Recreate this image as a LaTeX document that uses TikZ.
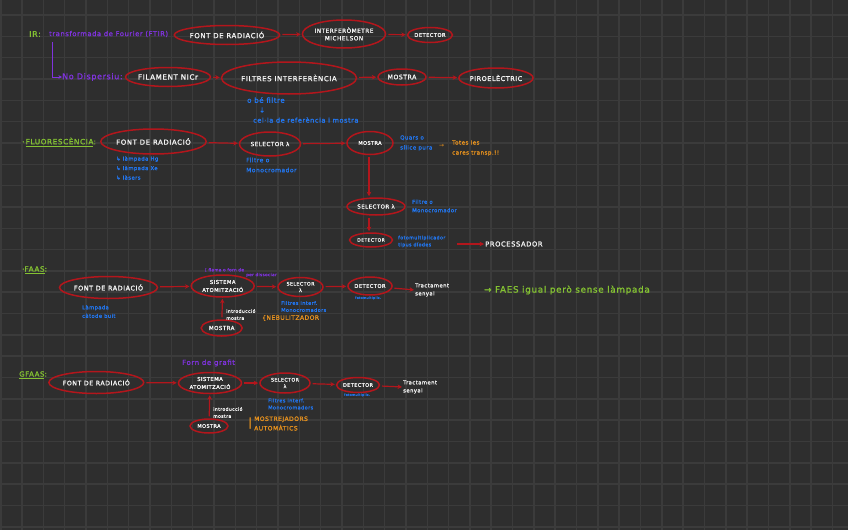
\documentclass[tikz,border=0pt]{standalone}
\usepackage{fontspec}
\setmainfont{DejaVu Sans}
\newfontfamily\hand[LetterSpace=8,FakeBold=1.2]{DejaVu Sans}
\usetikzlibrary{shapes.geometric,arrows.meta}
\definecolor{bgc}{HTML}{2E2E2E}
\definecolor{gridc}{HTML}{3B3B3B}
\definecolor{ered}{HTML}{B3161C}
\definecolor{pur}{HTML}{8033DE}
\definecolor{blu}{HTML}{2277F2}
\definecolor{grn}{HTML}{84C232}
\definecolor{org}{HTML}{E8921E}
\definecolor{wht}{HTML}{F4F4F4}
\begin{document}
\begin{tikzpicture}[x=1pt,y=-1pt,
  ell/.style={ellipse,draw=ered,line width=1.5pt,inner sep=0pt,text=wht,align=center},
  arr/.style={draw=ered,line width=1.2pt,-{Stealth[length=4.5pt,width=4.5pt]},shorten <=2pt,shorten >=1pt},
  parr/.style={draw=pur,line width=1pt,-{Stealth[length=3.5pt,width=3.5pt]}},
  txt/.style={inner sep=0pt,anchor=west,align=left},
]
\useasboundingbox (0,0) rectangle (848,530);
\fill[bgc] (0,0) rectangle (848,530);
\foreach \k in {0,...,39} \draw[gridc,line width=1.6pt] ({0.7+21.33*\k},0) -- ({0.7+21.33*\k},530);
\foreach \k in {0,...,24} \draw[gridc,line width=1.6pt] (0,{15+21.33*\k}) -- (848,{15+21.33*\k});

% ---------- IR ----------
\node[txt,text=grn,font=\hand\fontsize{8}{9}\selectfont] (ir) at (29,34) {IR:};
\node[txt,text=pur,font=\hand\fontsize{6.8}{8}\selectfont] (ftir) at (49,34) {transformada de Fourier (FTIR)};
\node[ell,minimum width=100pt,minimum height=19pt,font=\hand\fontsize{7}{8}\selectfont] (a1) at (227,35) {FONT DE RADIACIÓ};
\node[ell,minimum width=82pt,minimum height=28pt,font=\hand\fontsize{5.8}{7.5}\selectfont] (a2) at (344,34) {INTERFERÒMETRE\\MICHELSON};
\node[ell,minimum width=45pt,minimum height=15pt,font=\hand\fontsize{5.2}{6}\selectfont] (a3) at (430,35) {DETECTOR};
\draw[arr] (a1) -- (a2);
\draw[arr] (a2) -- (a3);

\coordinate (irc) at (52,42);
\node[txt,text=pur,font=\hand\fontsize{8}{9}\selectfont] (nd) at (62,77) {No Dispersiu:};
\draw[parr] (irc) |- (nd.west);
\node[ell,minimum width=75pt,minimum height=19pt,font=\hand\fontsize{7.2}{8}\selectfont] (b1) at (168,77) {FILAMENT NICr};
\node[ell,minimum width=117pt,minimum height=32pt,font=\hand\fontsize{7}{8}\selectfont] (b2) at (289,78) {FILTRES INTERFERÈNCIA};
\node[ell,minimum width=48pt,minimum height=16pt,font=\hand\fontsize{6.2}{7}\selectfont] (b3) at (402,77) {MOSTRA};
\node[ell,minimum width=69pt,minimum height=20pt,font=\hand\fontsize{6.5}{7}\selectfont] (b4) at (496,78) {PIROELÈCTRIC};
\draw[arr] (b1) -- (b2);
\draw[arr] (b2) -- (b3);
\draw[arr] (b3) -- (b4);
\node[txt,text=blu,font=\hand\fontsize{7}{8}\selectfont] (obe) at (247,100) {o bé filtre};
\node[txt,text=blu,font=\hand\fontsize{7}{8}\selectfont] (darr) at (259,110) {↓};
\node[txt,text=blu,font=\hand\fontsize{6.6}{8}\selectfont] (cel) at (253,120) {cel·la de referència i mostra};

% ---------- Fluorescencia ----------
\node[txt,text=grn,font=\hand\fontsize{7.3}{8}\selectfont] (fl) at (22,142) {·\,\underline{FLUORESCÈNCIA}:};
\node[ell,minimum width=89pt,minimum height=25pt,font=\hand\fontsize{7}{8}\selectfont] (c1) at (153.5,141.5) {FONT DE RADIACIÓ};
\node[ell,minimum width=61pt,minimum height=24pt,font=\hand\fontsize{5.7}{7}\selectfont] (c2) at (270,144) {SELECTOR λ};
\node[ell,minimum width=46pt,minimum height=23pt,font=\hand\fontsize{5}{6}\selectfont] (c3) at (370,143) {MOSTRA};
\draw[arr] (c1) -- (c2);
\draw[arr] (c2) -- (c3);
\node[txt,text=blu,font=\hand\fontsize{5.3}{9.5}\selectfont] (lamp) at (116,168) {↳ làmpada Hg\\↳ làmpada Xe\\↳ làsers};
\node[txt,text=blu,font=\hand\fontsize{6}{10}\selectfont] (fm1) at (246,165) {Filtre o\\Monocromador};
\node[txt,text=blu,font=\hand\fontsize{5.5}{10}\selectfont] (qu) at (400,143) {Quars o\\sílice pura};
\node[txt,text=org,font=\fontsize{6}{7}\selectfont] (oarr) at (439,146) {→};
\node[txt,text=org,font=\hand\fontsize{5.6}{10}\selectfont] (tot) at (452,148) {Totes les\\cares transp.!!};
\node[ell,minimum width=58pt,minimum height=17pt,font=\hand\fontsize{5.5}{6}\selectfont] (c4) at (376,206.5) {SELECTOR λ};
\node[ell,minimum width=43pt,minimum height=14pt,font=\hand\fontsize{4.6}{5}\selectfont] (c5) at (371,240) {DETECTOR};
\draw[arr] (c3.south -| 369,0) -- (c4.north -| 369,0);
\draw[arr] (c4.south -| 369,0) -- (c5.north -| 369,0);
\node[txt,text=blu,font=\hand\fontsize{5.3}{8.5}\selectfont] (fm2) at (412,206) {Filtre o\\Monocromador};
\node[txt,text=blu,font=\hand\fontsize{4.8}{7}\selectfont] (fot) at (398,241.5) {fotomultiplicador\\tipus díodes};
\node[txt,text=wht,font=\hand\fontsize{6.8}{8}\selectfont] (proc) at (485,244) {PROCESSADOR};
\coordinate (pst) at (455,244);
\draw[arr] (pst) -- (proc.west);

% ---------- FAAS ----------
\node[txt,text=grn,font=\hand\fontsize{7.3}{8}\selectfont] (faas) at (22,270) {·\underline{FAAS}:};
\node[ell,minimum width=87pt,minimum height=22pt,font=\hand\fontsize{6.5}{7}\selectfont] (d1) at (108.5,287.5) {FONT DE RADIACIÓ};
\node[ell,minimum width=63pt,minimum height=22pt,font=\hand\fontsize{5.3}{8}\selectfont] (d2) at (222.7,286) {SISTEMA\\ATOMITZACIÓ};
\node[ell,minimum width=45pt,minimum height=19pt,font=\hand\fontsize{4.8}{6.5}\selectfont] (d3) at (300.5,287) {SELECTOR\\λ};
\node[ell,minimum width=44pt,minimum height=18pt,font=\hand\fontsize{5.2}{6}\selectfont] (d4) at (370,286) {DETECTOR};
\node[txt,text=wht,font=\hand\fontsize{5.3}{8}\selectfont] (d5) at (415,290) {Tractament\\senyal};
\node[ell,minimum width=41pt,minimum height=16pt,font=\hand\fontsize{5.5}{6}\selectfont] (d6) at (221.7,328) {MOSTRA};
\draw[arr] (d1) -- (d2);
\draw[arr] (d2) -- (d3);
\draw[arr] (d3) -- (d4);
\draw[arr] (d4) -- (d5.west);
\draw[arr] (d6) -- (d2);
\node[txt,text=pur,font=\hand\fontsize{4.2}{4.5}\selectfont] (fl1) at (205,270) {[ flama o forn de};
\node[txt,text=pur,font=\hand\fontsize{4.2}{4.5}\selectfont] (fl2) at (246,275) {per dissociar};
\node[txt,text=blu,font=\hand\fontsize{5.2}{8.5}\selectfont] (d1l) at (82,311.5) {Làmpada\\càtode buit};
\node[txt,text=blu,font=\hand\fontsize{5}{7}\selectfont] (d3l) at (281,306.5) {Filtres interf.\\Monocromadors};
\node[txt,text=blu,font=\hand\fontsize{3.4}{4}\selectfont] (d4l) at (355,298) {fotomultiplic.};
\node[txt,text=org,font=\hand\fontsize{6}{7}\selectfont] (neb) at (262,318) {\{NEBULITZADOR};
\node[txt,text=wht,font=\hand\fontsize{4.6}{7}\selectfont] (d6l) at (226,314.5) {introducció\\mostra};
\node[txt,text=grn,font=\hand\fontsize{8.8}{10}\selectfont] (faes) at (484,290) {→ FAES igual però sense làmpada};

% ---------- GFAAS ----------
\node[txt,text=grn,font=\hand\fontsize{7}{8}\selectfont] (gfaas) at (19,375) {\underline{GFAAS}:};
\node[ell,minimum width=89pt,minimum height=22pt,font=\hand\fontsize{6.3}{7}\selectfont] (e1) at (96.3,382.5) {FONT DE RADIACIÓ};
\node[ell,minimum width=63pt,minimum height=21pt,font=\hand\fontsize{5.3}{8}\selectfont] (e2) at (210,383) {SISTEMA\\ATOMITZACIÓ};
\node[ell,minimum width=50pt,minimum height=20pt,font=\hand\fontsize{4.8}{6.5}\selectfont] (e3) at (285,383) {SELECTOR\\λ};
\node[ell,minimum width=43pt,minimum height=15pt,font=\hand\fontsize{5}{6}\selectfont] (e4) at (358,385) {DETECTOR};
\node[txt,text=wht,font=\hand\fontsize{5.3}{8}\selectfont] (e5) at (403,387) {Tractament\\senyal};
\node[ell,minimum width=38pt,minimum height=14pt,font=\hand\fontsize{5}{6}\selectfont] (e6) at (209,426) {MOSTRA};
\draw[arr] (e1) -- (e2);
\draw[arr] (e2) -- (e3);
\draw[arr] (e3) -- (e4);
\draw[arr] (e4) -- (e5.west);
\draw[arr] (e6) -- (e2);
\node[txt,text=pur,font=\hand\fontsize{7}{8}\selectfont] (forn) at (182,363) {Forn de grafit};
\node[txt,text=blu,font=\hand\fontsize{5}{7}\selectfont] (e3l) at (268,404) {Filtres interf.\\Monocromadors};
\node[txt,text=blu,font=\hand\fontsize{3.4}{4}\selectfont] (e4l) at (344,395) {fotomultiplic.};
\node[txt,text=org,font=\hand\fontsize{6}{9.5}\selectfont] (most) at (254,423.5) {MOSTREJADORS\\AUTOMÀTICS};
\node[txt,text=org,font=\hand\fontsize{11}{12}\selectfont] (bar) at (248,423) {|};
\node[txt,text=wht,font=\hand\fontsize{4.6}{7}\selectfont] (e6l) at (213,412.5) {introducció\\mostra};
\end{tikzpicture}
\end{document}
